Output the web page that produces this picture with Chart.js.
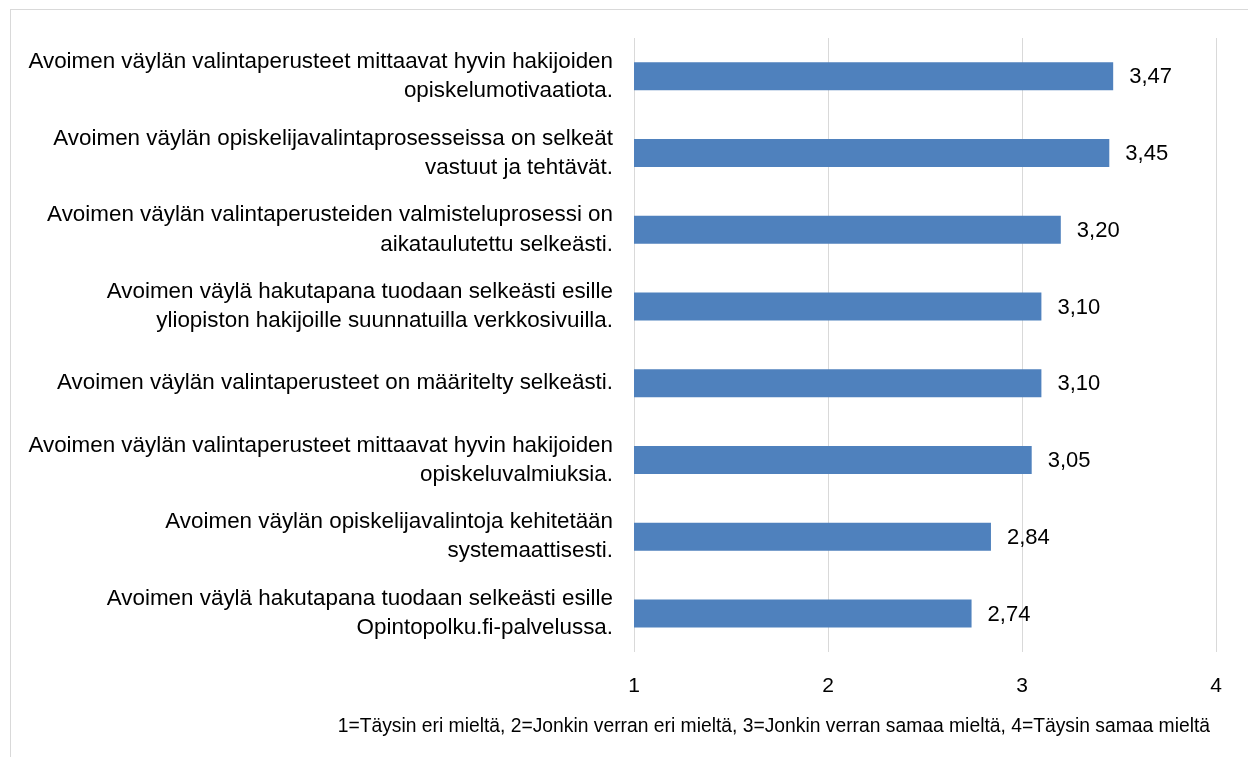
<!DOCTYPE html>
<html>
<head>
<meta charset="utf-8">
<script src="https://cdn.jsdelivr.net/npm/chart.js@4"></script>
<style>
  html, body { margin: 0; padding: 0; background: #fff; }
  #wrap { width: 1248px; height: 757px; }
</style>
</head>
<body>
<div id="wrap"><canvas id="chart"></canvas></div>
<script>
const categories = [
    ['Avoimen väylän valintaperusteet mittaavat hyvin hakijoiden', 'opiskelumotivaatiota.'],
    ['Avoimen väylän opiskelijavalintaprosesseissa on selkeät', 'vastuut ja tehtävät.'],
    ['Avoimen väylän valintaperusteiden valmisteluprosessi on', 'aikataulutettu selkeästi.'],
    ['Avoimen väylä hakutapana tuodaan selkeästi esille', 'yliopiston hakijoille suunnatuilla verkkosivuilla.'],
    'Avoimen väylän valintaperusteet on määritelty selkeästi.',
    ['Avoimen väylän valintaperusteet mittaavat hyvin hakijoiden', 'opiskeluvalmiuksia.'],
    ['Avoimen väylän opiskelijavalintoja kehitetään', 'systemaattisesti.'],
    ['Avoimen väylä hakutapana tuodaan selkeästi esille', 'Opintopolku.fi-palvelussa.']
];
const values = [3.47, 3.45, 3.20, 3.10, 3.10, 3.05, 2.84, 2.74];
const scaleTicks = [1, 2, 3, 4];
const footnote = '1=Täysin eri mieltä, 2=Jonkin verran eri mieltä, 3=Jonkin verran samaa mieltä, 4=Täysin samaa mieltä';

const fontFamily = '"Liberation Sans", Arial, sans-serif';

// frame, value labels and the scale footnote
const extras = {
    id: 'extras',
    beforeDraw(chart) {
        const ctx = chart.ctx;
        ctx.save();
        ctx.strokeStyle = '#d9d9d9';
        ctx.lineWidth = 1;
        ctx.strokeRect(10.5, 9.5, 1400, 900);
        ctx.restore();
    },
    afterDatasetsDraw(chart) {
        const ctx = chart.ctx;
        const meta = chart.getDatasetMeta(0);
        ctx.save();
        ctx.font = '22px ' + fontFamily;
        ctx.fillStyle = '#000';
        ctx.textAlign = 'left';
        ctx.textBaseline = 'middle';
        meta.data.forEach((bar, i) => {
            ctx.fillText(values[i].toFixed(2).replace('.', ','), bar.x + 16, bar.y + 1);
        });
        ctx.restore();
    },
    afterDraw(chart) {
        const ctx = chart.ctx;
        ctx.save();
        ctx.font = '19.3px ' + fontFamily;
        ctx.fillStyle = '#000';
        ctx.textAlign = 'right';
        ctx.textBaseline = 'middle';
        ctx.fillText(footnote, chart.chartArea.right - 6, chart.height - 30);
        ctx.restore();
    }
};

new Chart(document.getElementById('chart'), {
    type: 'bar',
    data: {
        labels: categories,
        datasets: [{
            data: values,
            backgroundColor: '#4F81BD',
            borderWidth: 0,
            barPercentage: 0.73,
            categoryPercentage: 0.5
        }]
    },
    options: {
        indexAxis: 'y',
        responsive: true,
        maintainAspectRatio: false,
        animation: false,
        layout: { padding: { top: 38, right: 32, left: 0, bottom: 36 } },
        scales: {
            x: {
                min: 1,
                max: 4,
                afterBuildTicks(scale) {
                    scale.ticks = scaleTicks.map(v => ({ value: v }));
                },
                grid: { color: '#d9d9d9', drawTicks: false },
                border: { display: false },
                ticks: {
                    padding: 22,
                    color: '#000',
                    font: { family: fontFamily, size: 21 }
                }
            },
            y: {
                afterFit(scale) {
                    scale.width = 634;
                    scale.paddingTop = 0;
                    scale.paddingBottom = 0;
                },
                grid: { display: false, drawTicks: false },
                border: { display: false },
                ticks: {
                    padding: 21,
                    color: '#000',
                    font: { family: fontFamily, size: 22.4, lineHeight: 1.3 }
                }
            }
        },
        plugins: {
            legend: { display: false },
            tooltip: { enabled: false },
            title: { display: false }
        }
    },
    plugins: [extras]
});
</script>
</body>
</html>
